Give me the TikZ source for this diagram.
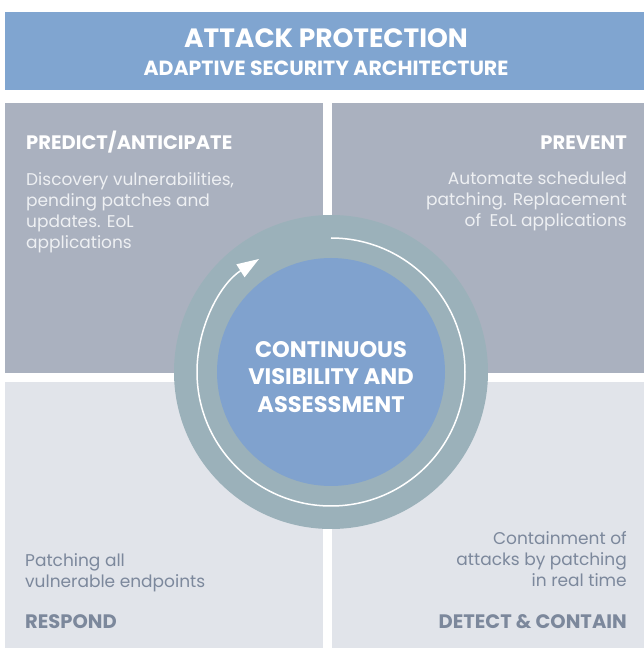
\documentclass[tikz,border=0pt]{standalone}
\usepackage{fontspec}
\setmainfont{Poppins}
\usepackage{tikz}
\usetikzlibrary{arrows.meta,positioning}

\definecolor{headblue}{HTML}{80A5D0}
\definecolor{topgray}{HTML}{AAB1BF}
\definecolor{lowgray}{HTML}{E1E4EA}
\definecolor{ringgray}{HTML}{9BB1BA}
\definecolor{coreblue}{HTML}{80A2CE}
\definecolor{lowtext}{HTML}{7C889C}
\definecolor{toptext}{HTML}{EEF0F3}

\tikzset{
  heading/.style={font=\fontsize{19.5}{22}\selectfont\bfseries, inner sep=0pt},
  bodytext/.style={font=\fontsize{17}{21}\selectfont, inner sep=0pt},
}

\begin{document}
\begin{tikzpicture}[x=1pt, y=1pt]
                    \useasboundingbox (0,0) rectangle (644,649);
                    \fill[white] (0,0) rectangle (644,649);

                    % banner and the four fields
                    \fill[headblue] (5,559) rectangle (644,637);
                    \fill[topgray] (5,276) rectangle (323,546);
                    \fill[topgray] (332,276) rectangle (644,546);
                    \fill[lowgray] (5,1) rectangle (323,267);
                    \fill[lowgray] (332,1) rectangle (644,267);

                    \node[white, font=\fontsize{26.5}{30}\selectfont\bfseries] (title) at (326,611) {ATTACK PROTECTION};
                    \node[white, font=\fontsize{20.5}{24}\selectfont\bfseries] (subtitle) at (326,581) {ADAPTIVE SECURITY ARCHITECTURE};

                    % centre circle
                    \coordinate (c) at (331,277);
                    \fill[ringgray] (c) circle[radius=157];
                    \node[circle, fill=coreblue, minimum size=228pt, inner sep=0pt] (core) at (c) {};
                    \node[align=center, text=white, font=\fontsize{22.5}{27.5}\selectfont\bfseries]
                        (coretext) at ([yshift=-5pt]c) {CONTINUOUS\\VISIBILITY AND\\ASSESSMENT};
                    \draw[white, line width=1.5pt, -{Triangle[width=15pt, length=22pt]}]
                        ([shift={(90:134)}]c) arc[start angle=90, end angle=-237.5, radius=134];

                    % top fields
                    \node[heading, white, anchor=west] (predict) at (26,507) {PREDICT/ANTICIPATE};
                    \node[bodytext, toptext, anchor=north west, align=left] (predictinfo) at (26,477)
                        {Discovery vulnerabilities,\\pending patches and\\updates. EoL\\applications};
                    \node[heading, white, anchor=east] (prevent) at (627,506) {PREVENT};
                    \node[bodytext, toptext, anchor=north east, align=right] (preventinfo) at (627,477)
                        {Automate scheduled\\patching. Replacement\\of\enspace EoL applications};

                    % bottom fields
                    \node[bodytext, lowtext, anchor=north west, align=left] (respondinfo) at (25,96)
                        {Patching all\\vulnerable endpoints};
                    \node[heading, lowtext, anchor=west] (respond) at (25,27) {RESPOND};
                    \node[bodytext, lowtext, anchor=north east, align=right] (detectinfo) at (627,118)
                        {Containment of\\attacks by patching\\in real time};
                    \node[heading, lowtext, anchor=east] (detect) at (627,27) {DETECT \& CONTAIN};
\end{tikzpicture}
\end{document}
